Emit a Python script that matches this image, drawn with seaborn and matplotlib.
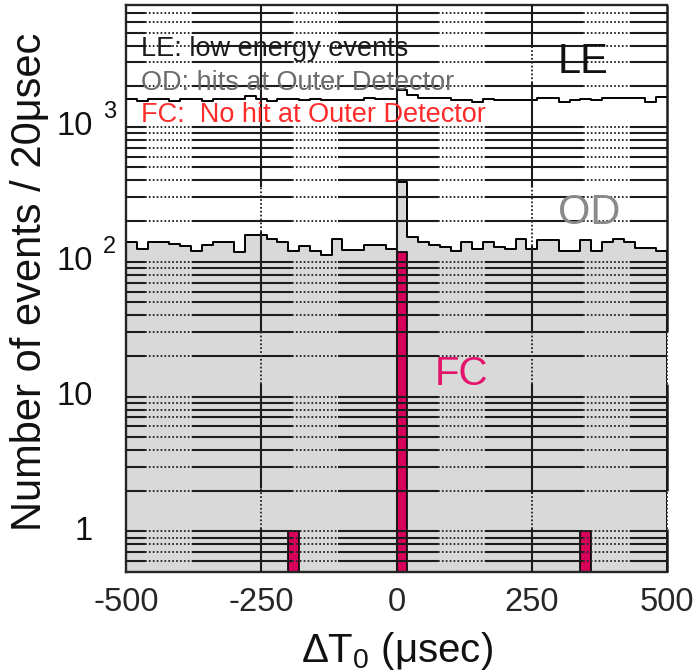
import numpy as np
import pandas as pd
import matplotlib
matplotlib.use("Agg")
import matplotlib.pyplot as plt
import seaborn as sns

# ---- data -------------------------------------------------------------
T_MIN, T_MAX, BIN_WIDTH = -500, 500, 20

# low energy events per 20 usec bin
le_counts = [1610, 1560, 1610, 1610, 1560, 1610, 1610, 1560, 1610, 1610,
             1610, 1700, 1610, 1560, 1610, 1610, 1590, 1620, 1590, 1590,
             1590, 1590, 1640, 1610, 1610, 1880, 1710, 1640, 1640, 1640,
             1585, 1585, 1540, 1610, 1585, 1585, 1585, 1585, 1640, 1640,
             1525, 1570, 1610, 1570, 1640, 1640, 1640, 1640, 1525, 1660]

# events with hits at the outer detector
od_counts = [140, 125, 141, 141, 136, 131, 121, 132, 140, 140,
             118, 159, 159, 146, 140, 121, 131, 121, 113, 146,
             123, 123, 134, 134, 125, 393, 152, 140, 134, 128,
             121, 140, 124, 140, 128, 124, 148, 125, 144, 144,
             121, 121, 144, 121, 140, 146, 140, 126, 126, 121]

# fully contained events (no outer detector hit)
fc_times = [-190, 10, 350]
fc_counts = [1, 118, 1]

x_ticks = [-500, -250, 0, 250, 500]
x_tick_labels = ["-500", "-250", "0", "250", "500"]
y_ticks = [1, 10, 100, 1000]
y_tick_base = ["1", "10", "10", "10"]
y_tick_exp = ["", "", "2", "3"]

legend_lines = ["LE: low energy events",
                "OD: hits at Outer Detector",
                "FC:  No hit at Outer Detector"]
legend_colors = ["#1c1c1c", "#6c6c6c", "#ff2b2b"]

# ---- style ------------------------------------------------------------
sns.set_style("white")
plt.rcParams["font.family"] = ["Liberation Sans", "DejaVu Sans"]
plt.rcParams["mathtext.fontset"] = "custom"
plt.rcParams["mathtext.rm"] = "Liberation Sans"
plt.rcParams["mathtext.it"] = "Liberation Sans:italic"

GRID_DARK = "#1c1c1c"
GRID_DOT = "#2e2e2e"
DOTS = (0, (0.9, 1.1))
YMIN, YMAX = 0.5, 8000

fig = plt.figure(figsize=(6.98, 6.72), dpi=100)
ax = fig.add_axes([126 / 698, 1 - 572 / 672, 541 / 698, 567 / 672])
ax.set_yscale("log")

edges = list(np.arange(T_MIN, T_MAX + BIN_WIDTH, BIN_WIDTH))
centers = np.arange(T_MIN, T_MAX, BIN_WIDTH) + BIN_WIDTH / 2

hist_df = pd.DataFrame({"t": centers, "LE": le_counts, "OD": od_counts})
fc_df = pd.DataFrame({"t": fc_times, "FC": fc_counts})

sns.histplot(data=hist_df, x="t", weights="OD", bins=edges, element="step",
             fill=True, color="#d9d9d9", alpha=1, edgecolor="black",
             linewidth=1.4, ax=ax, zorder=1)
sns.histplot(data=fc_df, x="t", weights="FC", bins=edges, element="bars",
             fill=True, color="#d6005a", alpha=1, edgecolor="black",
             linewidth=1.2, ax=ax, zorder=2)
sns.histplot(data=hist_df, x="t", weights="LE", bins=edges, element="step",
             fill=False, color="black", linewidth=1.4, ax=ax, zorder=3)

ax.set_xlim(T_MIN, T_MAX)
ax.set_ylim(YMIN, YMAX)

# ---- grid: horizontal lines at every log tick, with dotted stretches ----
solid_x = [(-500, -465), (-378, -193), (-108, 77), (164, 345), (432, 500)]
dotted_x = [(-465, -378), (-193, -108), (77, 164), (345, 432)]
grid_y = [m * 10.0 ** d for d in range(-1, 4) for m in range(1, 10)]
grid_y = [y for y in grid_y if YMIN < y < YMAX * 0.99]
for y in grid_y:
    for a, b in solid_x:
        ax.hlines(y, a, b, color=GRID_DARK, lw=1.5, zorder=4)
    for a, b in dotted_x:
        ax.hlines(y, a, b, color=GRID_DOT, lw=1.4, linestyles=DOTS, zorder=4)


def vertical_rule(x, dotted_spans, lw=1.5, clip=True):
    """Vertical line that switches to dots inside the given y spans."""
    cuts = [YMIN]
    for lo, hi in dotted_spans:
        cuts += [lo, hi]
    cuts.append(YMAX)
    for i in range(len(cuts) - 1):
        lo, hi = cuts[i], cuts[i + 1]
        if i % 2 == 0:
            ax.vlines(x, lo, hi, color=GRID_DARK, lw=lw, zorder=4, clip_on=clip)
        else:
            ax.vlines(x, lo, hi, color=GRID_DOT, lw=1.4, linestyles=DOTS,
                      zorder=4, clip_on=clip)


vertical_rule(-250, [(1.05, 2.1), (12.3, 30), (167, 360)])
vertical_rule(0, [])
vertical_rule(250, [(1.05, 1.9), (12.3, 30), (130, 360), (2100, 3900)])
vertical_rule(500, [(1.05, 2.0), (12.3, 30)], lw=1.8, clip=False)

for side in ["left", "bottom", "top"]:
    ax.spines[side].set_color("#262626")
    ax.spines[side].set_linewidth(1.7)
ax.spines["right"].set_visible(False)

# ---- ticks ------------------------------------------------------------
ax.set_xticks(x_ticks)
ax.set_xticklabels(x_tick_labels, fontsize=23.5)
ax.set_xticks(np.arange(T_MIN, T_MAX + 1, 50), minor=True)
ax.tick_params(axis="x", which="major", length=0, pad=11)
ax.tick_params(axis="x", which="minor", direction="in", length=4.5,
               width=1.5, color="#262626", bottom=True, top=False)
ax.yaxis.set_major_locator(matplotlib.ticker.NullLocator())
ax.yaxis.set_minor_locator(matplotlib.ticker.NullLocator())

ytrans = ax.get_yaxis_transform()
for val, base, exp in zip(y_ticks, y_tick_base, y_tick_exp):
    ax.text(-0.062, val, base, transform=ytrans, ha="right", va="center",
            fontsize=23.5, color="#111111")
    if exp:
        ax.text(-0.042, val * 1.28, exp, transform=ytrans, ha="left",
                va="center", fontsize=17, color="#111111")

# ---- labels -----------------------------------------------------------
ax.set_ylabel("Number of events / 20μsec", fontsize=30, color="#111111")
ax.yaxis.label.set_verticalalignment("center")
ax.yaxis.set_label_coords(-0.178, 0.511)
ax.set_xlabel(r"ΔT$_{\mathregular{0}}$ (μsec)", fontsize=29, color="#111111")
ax.xaxis.label.set_verticalalignment("center")
ax.xaxis.set_label_coords(0.5, -0.14)

legend_y = [3785, 2118, 1227]
for txt, col, yv in zip(legend_lines, legend_colors, legend_y):
    ax.text(-472, yv, txt, ha="left", va="center", fontsize=19.5, color=col,
            zorder=6)

ax.text(345, 3040, "LE", ha="center", va="center", fontsize=30,
        color="#111111", zorder=6)
ax.text(356, 230, "OD", ha="center", va="center", fontsize=30,
        color="#8a8a8a", zorder=6)
ax.text(121, 14.6, "FC", ha="center", va="center", fontsize=29,
        color="#e3146c", zorder=6)

fig.savefig("out.png", dpi=100)
